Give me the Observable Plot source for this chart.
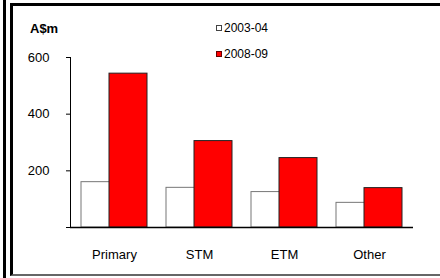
<!DOCTYPE html>
<html>
<head>
<meta charset="utf-8">
<script src="https://cdn.jsdelivr.net/npm/d3@7"></script>
<script src="https://cdn.jsdelivr.net/npm/@observablehq/plot@0.6"></script>
<style>
  html, body { margin: 0; padding: 0; background: #fff; }
  body { width: 440px; height: 278px; position: relative; overflow: hidden; font-family: "Liberation Sans", Arial, sans-serif; }
  #outer { position: absolute; left: 3px; top: 0; width: 2.5px; height: 278px; background: #000; }
  #box { position: absolute; left: 10px; top: 3px; width: 460px; height: 268px;
         border-left: 3px solid #000; border-top: 3px solid #000; border-bottom: 2px solid #666; }
  #chart { position: absolute; left: 0; top: 0; }
  #unit { position: absolute; left: 30px; top: 21px; font-weight: bold; font-size: 13px; }
  .leg { position: absolute; left: 216px; font-size: 12px; display: flex; align-items: center; }
  .sw { width: 6px; height: 6px; margin-right: 2px; box-sizing: border-box; }
</style>
</head>
<body>
<div id="outer"></div>
<div id="box"></div>
<div id="chart"></div>
<div id="unit">A$m</div>
<div class="leg" style="top:21px"><div class="sw" style="background:#fff;border:1px solid #444"></div>2003-04</div>
<div class="leg" style="top:47px"><div class="sw" style="background:#f00;border:1px solid #600"></div>2008-09</div>
<script>
const categories = ["Primary", "STM", "ETM", "Other"];
const series2003 = [160, 140, 125, 87];
const series2008 = [543, 305, 245, 139];
const yTicks = [0, 200, 400, 600];

const d03 = categories.map((c, i) => ({cat: c, value: series2003[i]}));
const d08 = categories.map((c, i) => ({cat: c, value: series2008[i]}));

const chart = Plot.plot({
  width: 440,
  height: 278,
  marginLeft: 70,
  marginRight: 27,
  marginTop: 57,
  marginBottom: 51,
  style: {fontFamily: "'Liberation Sans', Arial, sans-serif", fontSize: "13px", color: "#000", background: "transparent", overflow: "visible"},
  x: {domain: categories, paddingInner: 0.22, paddingOuter: 0.11, label: null, tickSize: 0, tickPadding: 22},
  y: {domain: [0, 600], ticks: yTicks, tickSize: 4, tickPadding: 17, label: null, tickFormat: d => d === 0 ? "" : String(d)},
  marks: [
    Plot.barY(d03, {x: "cat", y: "value", fill: "#fff", stroke: "#777", strokeWidth: 1, insetRight: 28}),
    Plot.barY(d08, {x: "cat", y: "value", fill: "#ff0000", stroke: "#222", strokeWidth: 1, insetLeft: 28}),
    Plot.frame({anchor: "left", stroke: "#000"}),
    Plot.ruleY([0], {stroke: "#000", strokeWidth: 1.5})
  ]
});
document.getElementById("chart").appendChild(chart);
</script>
</body>
</html>
